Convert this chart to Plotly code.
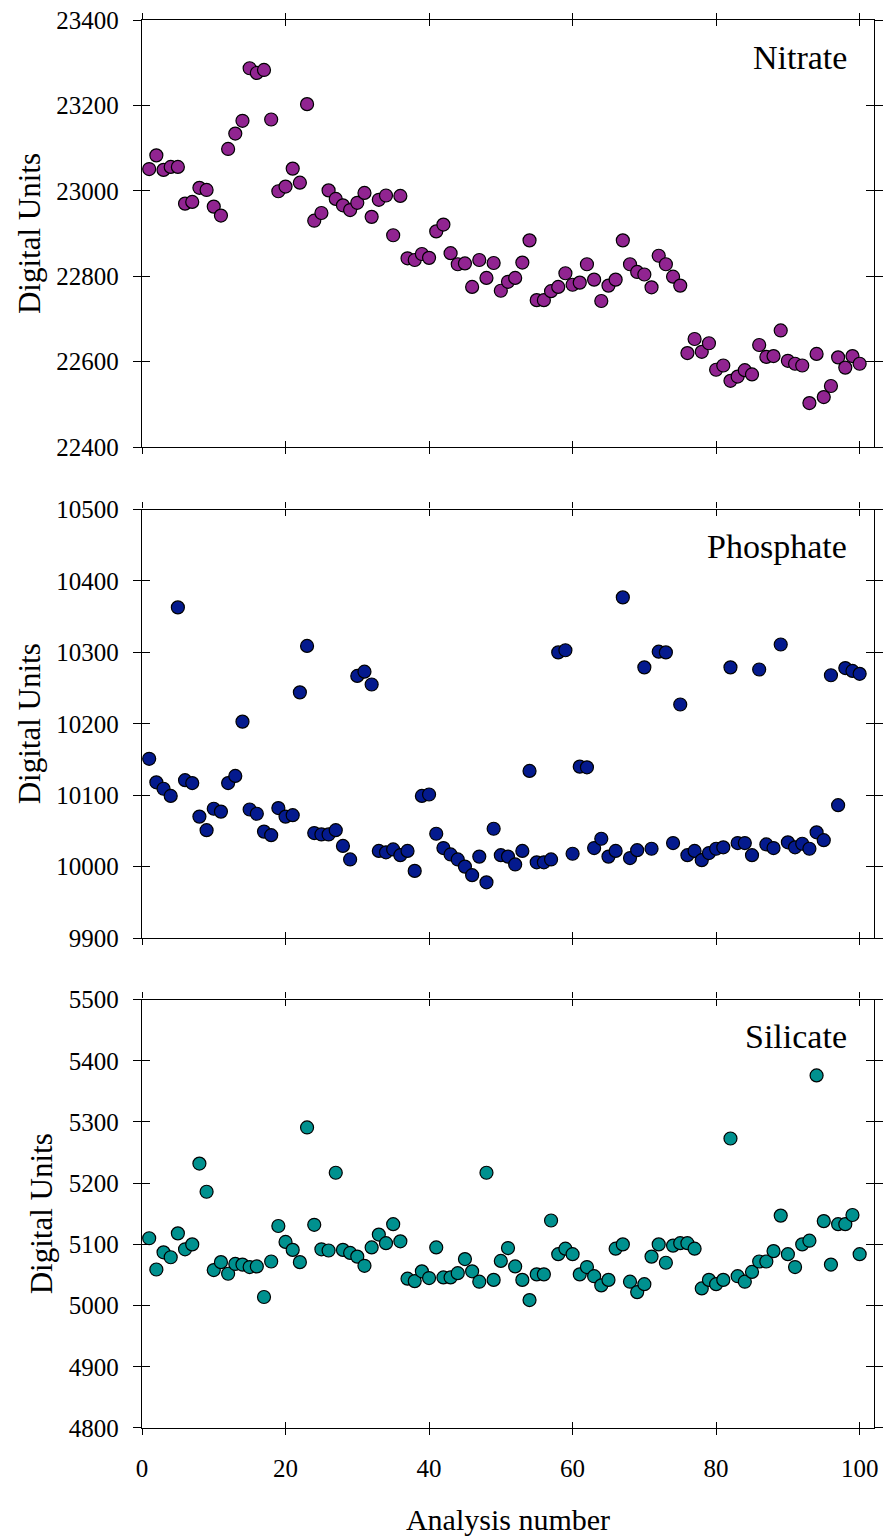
import plotly.graph_objects as go

analysis = list(range(1, 101))

nitrate = [23051, 23083, 23049, 23056, 23056, 22970, 22974, 23007, 23002, 22963,
           22942, 23098, 23134, 23164, 23287, 23276, 23283, 23167, 22999, 23010,
           23052, 23019, 23203, 22930, 22948, 23001, 22981, 22966, 22955, 22972,
           22995, 22939, 22979, 22989, 22896, 22988, 22842, 22838, 22852, 22843,
           22905, 22921, 22854, 22828, 22830, 22775, 22838, 22796, 22831, 22766,
           22787, 22796, 22832, 22884, 22744, 22744, 22765, 22775, 22807, 22780,
           22785, 22828, 22792, 22742, 22778, 22792, 22884, 22828, 22810, 22804,
           22774, 22848, 22828, 22799, 22778, 22620, 22653, 22623, 22643, 22581,
           22591, 22555, 22565, 22580, 22570, 22639, 22611, 22613, 22673, 22602,
           22595, 22591, 22503, 22618, 22517, 22543, 22610, 22586, 22613, 22595]

phosphate = [10151, 10118, 10109, 10099, 10363, 10121, 10117, 10070, 10051, 10081,
             10077, 10117, 10127, 10203, 10080, 10074, 10049, 10044, 10082, 10070,
             10072, 10244, 10309, 10047, 10045, 10045, 10051, 10029, 10010, 10267,
             10273, 10255, 10022, 10020, 10024, 10016, 10022, 9994, 10099, 10101,
             10046, 10026, 10017, 10010, 10000, 9988, 10014, 9978, 10053, 10016,
             10014, 10003, 10022, 10134, 10006, 10006, 10010, 10300, 10303, 10018,
             10140, 10139, 10026, 10039, 10014, 10022, 10377, 10012, 10023, 10279,
             10025, 10301, 10300, 10033, 10227, 10016, 10022, 10009, 10019, 10025,
             10027, 10279, 10033, 10033, 10016, 10276, 10031, 10026, 10311, 10034,
             10027, 10032, 10025, 10048, 10037, 10268, 10086, 10278, 10274, 10270]

silicate = [5110, 5059, 5087, 5079, 5118, 5092, 5100, 5232, 5186, 5058,
            5071, 5052, 5068, 5067, 5063, 5064, 5014, 5072, 5130, 5104,
            5091, 5071, 5291, 5132, 5092, 5090, 5217, 5091, 5086, 5080,
            5065, 5095, 5116, 5102, 5133, 5105, 5044, 5040, 5056, 5045,
            5095, 5046, 5046, 5053, 5076, 5056, 5039, 5217, 5042, 5073,
            5094, 5064, 5042, 5009, 5051, 5051, 5139, 5084, 5093, 5084,
            5051, 5063, 5048, 5033, 5042, 5093, 5100, 5039, 5022, 5035,
            5080, 5100, 5070, 5098, 5102, 5102, 5093, 5028, 5042, 5035,
            5042, 5273, 5048, 5039, 5055, 5072, 5072, 5089, 5147, 5084,
            5063, 5100, 5106, 5376, 5138, 5067, 5133, 5133, 5148, 5084]

panel_names = ["Nitrate", "Phosphate", "Silicate"]
panel_series = [nitrate, phosphate, silicate]
panel_colors = ["#912491", "#041A8E", "#00918F"]
panel_yranges = [[22400, 23400], [9900, 10500], [4800, 5500]]
panel_ydtick = [200, 100, 100]
panel_domains = [[0.6967, 1.0], [0.3480, 0.6523], [0.0, 0.3043]]
x_range = [0, 102]
x_ticks = [0, 20, 40, 60, 80, 100]

FONT = "Liberation Serif, Times New Roman, serif"
TICKFONT = dict(family=FONT, size=25, color="black")

fig = go.Figure()
layout = dict(
    width=887, height=1539,
    margin=dict(l=142, r=13, t=20, b=111, autoexpand=False),
    paper_bgcolor="white", plot_bgcolor="rgba(0,0,0,0)",
    showlegend=False,
    font=dict(family=FONT, color="black"),
    annotations=[],
)

for i in range(3):
    n = i + 1
    ov = i + 4
    xs = "" if n == 1 else str(n)
    # inside-tick twin axes (same area) so ticks cross the frame
    fig.add_trace(go.Scatter(x=[None], y=[None], xaxis="x" + str(ov), yaxis="y" + str(ov),
                             mode="markers", showlegend=False, hoverinfo="skip"))
    fig.add_trace(go.Scatter(
        x=analysis, y=panel_series[i], mode="markers",
        xaxis="x" + xs, yaxis="y" + xs,
        marker=dict(size=13, color=panel_colors[i], line=dict(color="black", width=1.2)),
        hoverinfo="x+y",
    ))
    last = (i == 2)
    layout["xaxis" + xs] = dict(
        domain=[0, 1], anchor="y" + xs, range=x_range, automargin=False,
        tickvals=x_ticks, ticktext=[str(t) for t in x_ticks],
        showticklabels=last, tickfont=TICKFONT,
        ticks="outside", ticklen=6, tickwidth=1.3, tickcolor="black",
        showline=True, linecolor="black", linewidth=1.3, mirror="allticks",
        showgrid=False, zeroline=False,
        title=dict(text="Analysis number" if last else "",
                   font=dict(family=FONT, size=30, color="black"), standoff=27),
        ticklabelstandoff=12 if last else 0,
    )
    layout["yaxis" + xs] = dict(
        domain=panel_domains[i], anchor="x" + xs, range=panel_yranges[i], automargin=False,
        dtick=panel_ydtick[i], tick0=panel_yranges[i][0],
        tickfont=TICKFONT, tickformat="d",
        ticks="outside", ticklen=8, tickwidth=1.3, tickcolor="black",
        showline=True, linecolor="black", linewidth=1.3, mirror="allticks",
        showgrid=False, zeroline=False,
        ticklabelstandoff=9,
        title=dict(text="Digital Units", font=dict(family=FONT, size=31, color="black"), standoff=6),
    )
    layout["xaxis" + str(ov)] = dict(
        domain=[0, 1], anchor="y" + str(ov), range=x_range, automargin=False,
        tickvals=x_ticks, showticklabels=False,
        ticks="inside", ticklen=6, tickwidth=1.3, tickcolor="black",
        showline=False, mirror="allticks", showgrid=False, zeroline=False,
    )
    layout["yaxis" + str(ov)] = dict(
        domain=panel_domains[i], anchor="x" + str(ov), range=panel_yranges[i], automargin=False,
        dtick=panel_ydtick[i], tick0=panel_yranges[i][0], showticklabels=False,
        ticks="inside", ticklen=8, tickwidth=1.3, tickcolor="black",
        showline=False, mirror="allticks", showgrid=False, zeroline=False,
    )
    layout["annotations"].append(dict(
        text=panel_names[i], xref="x" + xs + " domain", yref="y" + xs + " domain",
        x=0.966, y=0.913, xanchor="right", yanchor="middle", showarrow=False,
        font=dict(family=FONT, size=34, color="black"),
    ))

fig.update_layout(**layout)
fig.write_html("out.html")
